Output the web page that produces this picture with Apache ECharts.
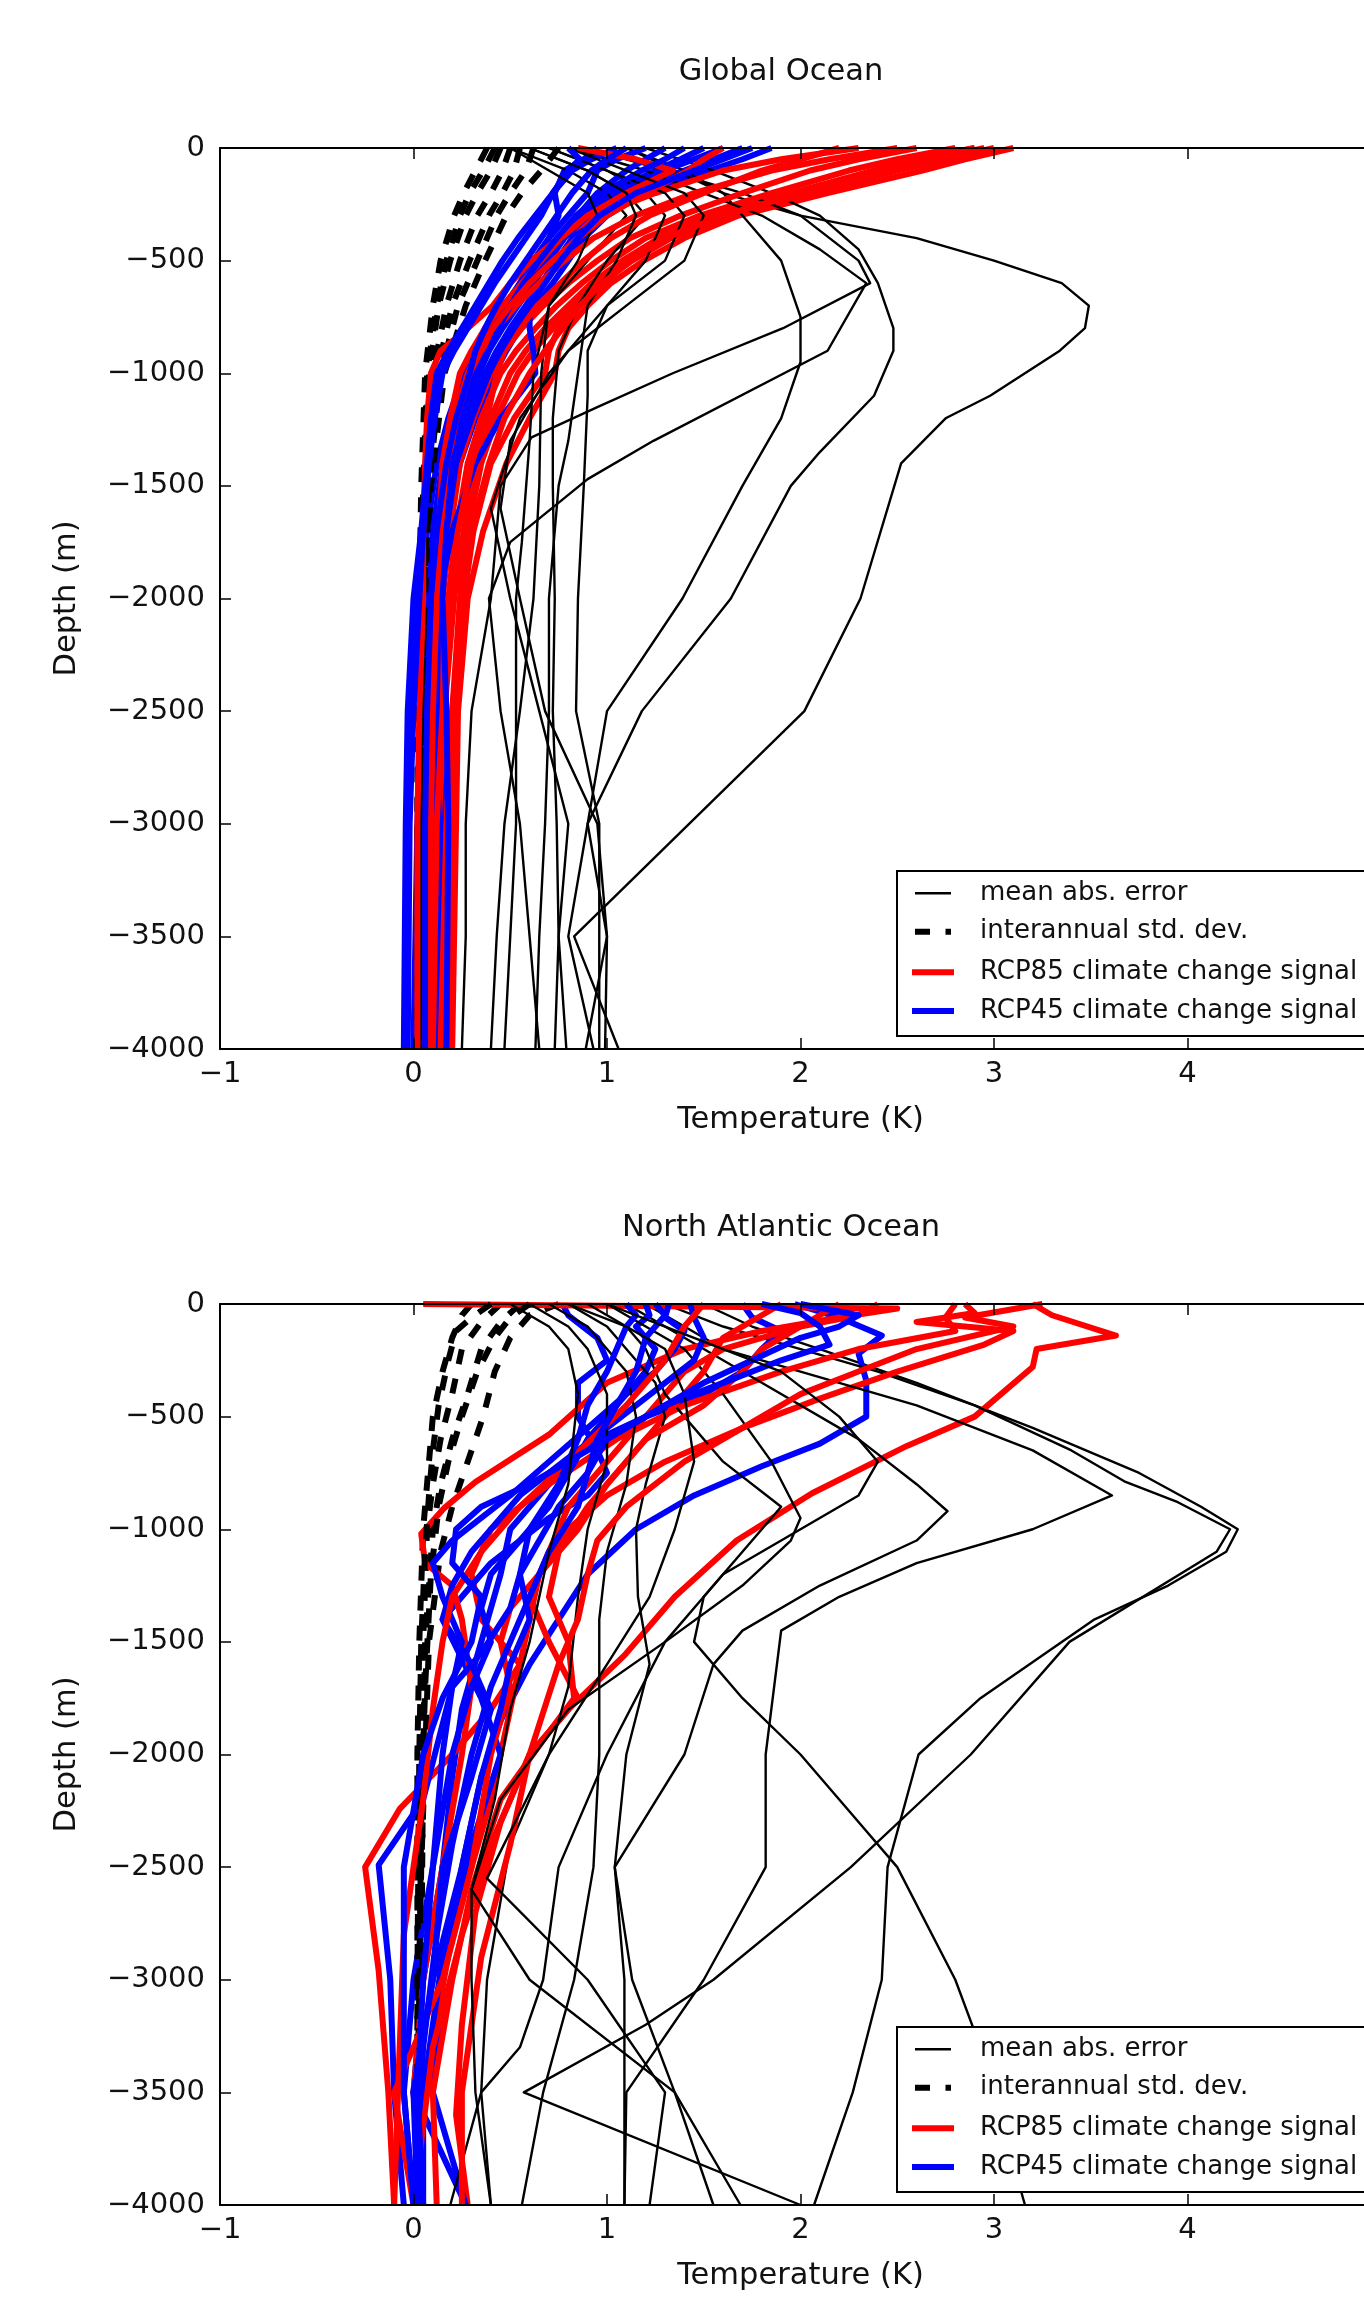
<!DOCTYPE html>
<html><head><meta charset="utf-8">
<script src="https://cdn.jsdelivr.net/npm/echarts@6/dist/echarts.min.js"></script>
<style>html,body{margin:0;padding:0;background:#fff}#c{width:1364px;height:2298px}</style>
</head><body><div id="c"></div>
<script>
// ---------- DATA (temperature K, depth m) ----------
const panelTitles = ['Global Ocean', 'North Atlantic Ocean'];
const xLabel = 'Temperature (K)';
const yLabel = 'Depth (m)';
const legendLabels = ['mean abs. error', 'interannual std. dev.', 'RCP85 climate change signal', 'RCP45 climate change signal'];

// depth levels shared by the Global Ocean climate-change-signal profiles
const globalLevels = [0,-50,-100,-200,-300,-400,-500,-600,-700,-800,-900,-1000,-1200,-1400,-1700,-2000,-2500,-3000,-4000];
// depth levels shared by the Global Ocean std-dev profiles
const stdLevels = [0,-100,-200,-300,-500,-700,-1000,-1500,-2000,-2500,-3000,-4000];

// Global Ocean — mean absolute error  ([T, depth] vertices)
const globalMAE = [
 [[1.1,0],[1.35,-100],[1.6,-200],[2.0,-300],[2.6,-400],[3.0,-500],[3.35,-600],[3.49,-700],[3.47,-800],[3.34,-900],[2.98,-1100],[2.75,-1200],[2.52,-1400],[2.31,-2000],[2.02,-2500],[0.83,-3500],[1.06,-4000]],
 [[1.2,0],[1.55,-100],[1.85,-200],[2.1,-300],[2.3,-450],[2.4,-600],[2.48,-800],[2.48,-900],[2.38,-1100],[2.1,-1350],[1.95,-1500],[1.64,-2000],[1.18,-2500],[0.9,-3000],[1.0,-3500],[0.99,-4000]],
 [[1.1,0],[1.4,-100],[1.6,-200],[1.75,-350],[1.9,-500],[2.0,-750],[2.0,-950],[1.9,-1200],[1.7,-1500],[1.39,-2000],[1.0,-2500],[0.9,-3000],[0.8,-3500],[0.93,-4000]],
 [[0.9,0],[1.3,-100],[1.7,-200],[2.0,-300],[2.3,-500],[2.36,-600],[1.91,-800],[1.34,-1000],[0.95,-1150],[0.61,-1285],[0.45,-1500],[0.4,-2000],[0.3,-2500],[0.27,-3000],[0.27,-3500],[0.25,-4000]],
 [[0.8,0],[1.2,-100],[1.5,-200],[1.8,-300],[2.1,-450],[2.34,-600],[2.14,-900],[1.24,-1300],[0.9,-1470],[0.5,-1750],[0.39,-2000],[0.45,-2500],[0.55,-3000],[0.6,-3500],[0.65,-4000]],
 [[0.7,0],[1.0,-100],[1.2,-200],[1.3,-300],[1.2,-500],[1.0,-700],[0.9,-900],[0.9,-1100],[0.88,-1500],[0.85,-2000],[0.84,-2500],[0.96,-3000],[0.96,-3500],[0.96,-4000]],
 [[0.6,0],[0.9,-100],[1.1,-200],[1.2,-300],[1.0,-500],[0.85,-700],[0.75,-900],[0.72,-1200],[0.72,-1500],[0.73,-2000],[0.72,-2500],[0.74,-3000],[0.75,-3500],[0.79,-4000]],
 [[0.5,0],[0.8,-100],[1.0,-200],[1.1,-300],[0.9,-500],[0.7,-700],[0.62,-1000],[0.6,-1300],[0.56,-1750],[0.53,-2000],[0.53,-2500],[0.53,-3000],[0.5,-3500],[0.47,-4000]],
 [[0.7,0],[1.0,-100],[1.3,-200],[1.4,-300],[1.3,-500],[1.0,-700],[0.7,-1000],[0.5,-1300],[0.45,-1600],[0.55,-2000],[0.68,-2500],[0.95,-3000],[1.0,-3500],[0.89,-4000]],
 [[0.8,0],[1.1,-100],[1.4,-200],[1.5,-300],[1.4,-500],[1.1,-700],[0.8,-900],[0.55,-1200],[0.4,-1600],[0.5,-2000],[0.65,-2500],[0.8,-3000],[0.75,-3500],[0.73,-4000]],
 [[0.5,0],[0.7,-100],[0.9,-200],[0.95,-300],[0.85,-500],[0.7,-700],[0.66,-1000],[0.65,-1500],[0.62,-2000],[0.55,-2500],[0.47,-3000],[0.43,-3500],[0.40,-4000]],
 [[0.6,0],[0.9,-100],[1.1,-200],[1.15,-300],[1.05,-500],[0.9,-700],[0.85,-1000],[0.8,-1300],[0.75,-1500],[0.7,-2000],[0.7,-2500],[0.68,-3000],[0.65,-3500],[0.63,-4000]]
];
// Global Ocean — interannual standard deviation (T at stdLevels)
const globalStd = [
 [0.38,0.32,0.26,0.21,0.14,0.10,0.06,0.04,0.03,0.02,0.02,0.02],
 [0.45,0.40,0.33,0.27,0.19,0.13,0.08,0.05,0.04,0.03,0.03,0.03],
 [0.50,0.46,0.40,0.33,0.24,0.17,0.10,0.06,0.05,0.04,0.03,0.03],
 [0.55,0.52,0.46,0.39,0.29,0.20,0.12,0.07,0.06,0.05,0.04,0.04],
 [0.75,0.66,0.56,0.48,0.37,0.27,0.16,0.09,0.07,0.05,0.04,0.03],
 [0.62,0.58,0.50,0.43,0.33,0.23,0.14,0.08,0.06,0.04,0.03,0.03],
 [0.42,0.36,0.29,0.24,0.17,0.12,0.07,0.05,0.04,0.03,0.02,0.02]
];
// Global Ocean — RCP85 signal (T at globalLevels)
const globalRcp85 = [
 [3.10,2.85,2.63,2.14,1.68,1.40,1.19,1.02,0.90,0.80,0.75,0.73,0.60,0.48,0.36,0.28,0.23,0.22,0.20],
 [3.00,2.75,2.50,2.05,1.62,1.33,1.13,0.97,0.84,0.72,0.62,0.54,0.43,0.35,0.28,0.24,0.20,0.18,0.16],
 [2.90,2.60,2.38,1.95,1.55,1.27,1.08,0.92,0.80,0.68,0.58,0.50,0.40,0.32,0.26,0.21,0.16,0.13,0.12],
 [2.80,2.50,2.25,1.85,1.48,1.20,1.02,0.87,0.74,0.63,0.53,0.45,0.35,0.28,0.22,0.18,0.14,0.12,0.10],
 [2.60,2.30,2.05,1.70,1.38,1.12,0.95,0.80,0.67,0.56,0.47,0.40,0.31,0.24,0.19,0.15,0.12,0.10,0.08],
 [2.95,2.70,2.45,2.00,1.60,1.30,1.10,0.95,0.83,0.75,0.70,0.68,0.52,0.40,0.31,0.26,0.21,0.20,0.19],
 [2.30,1.90,1.60,1.25,0.95,0.75,0.61,0.50,0.41,0.28,0.14,0.09,0.07,0.06,0.05,0.05,0.03,0.02,0.02],
 [2.50,2.15,1.85,1.45,1.15,0.93,0.78,0.65,0.53,0.43,0.35,0.29,0.22,0.18,0.14,0.12,0.10,0.08,0.06],
 [0.85,1.15,1.34,1.10,0.90,0.76,0.66,0.56,0.46,0.37,0.30,0.24,0.19,0.15,0.13,0.11,0.09,0.08,0.07],
 [2.20,2.00,1.80,1.50,1.22,1.02,0.88,0.76,0.64,0.55,0.47,0.43,0.38,0.30,0.23,0.19,0.15,0.12,0.10],
 [1.60,1.50,1.42,1.20,1.00,0.85,0.72,0.60,0.50,0.41,0.34,0.28,0.21,0.17,0.14,0.12,0.10,0.09,0.08],
 [2.90,2.65,2.42,2.00,1.60,1.30,1.12,0.98,0.86,0.77,0.68,0.60,0.47,0.39,0.30,0.26,0.20,0.17,0.14]
];
// Global Ocean — RCP45 signal (T at globalLevels)
const globalRcp45 = [
 [1.85,1.70,1.53,1.19,1.00,0.88,0.80,0.72,0.63,0.55,0.48,0.42,0.32,0.24,0.18,0.14,0.16,0.17,0.16],
 [1.70,1.55,1.40,1.10,0.93,0.82,0.74,0.66,0.58,0.50,0.43,0.37,0.28,0.21,0.15,0.12,0.14,0.15,0.14],
 [1.50,1.38,1.25,1.02,0.88,0.77,0.68,0.60,0.52,0.45,0.38,0.32,0.24,0.18,0.12,0.06,0.04,0.02,0.00],
 [0.95,0.88,0.78,0.73,0.75,0.70,0.62,0.55,0.47,0.40,0.33,0.26,0.18,0.12,0.07,0.02,-0.01,-0.03,-0.04],
 [1.20,1.05,0.95,0.90,0.80,0.70,0.62,0.55,0.48,0.41,0.34,0.28,0.20,0.15,0.10,0.08,0.10,0.11,0.11],
 [1.30,1.20,1.10,0.95,0.85,0.75,0.68,0.62,0.60,0.60,0.62,0.63,0.45,0.32,0.20,0.13,0.12,0.13,0.13],
 [1.60,1.45,1.30,1.05,0.90,0.78,0.70,0.62,0.54,0.46,0.39,0.33,0.25,0.19,0.13,0.10,0.09,0.08,0.08],
 [1.05,0.92,0.82,0.72,0.63,0.54,0.46,0.39,0.32,0.25,0.18,0.12,0.09,0.07,0.04,0.00,-0.03,-0.04,-0.05],
 [1.40,1.30,1.18,0.98,0.84,0.74,0.65,0.57,0.50,0.44,0.39,0.34,0.27,0.20,0.14,0.11,0.12,0.13,0.13],
 [0.80,0.86,0.80,0.72,0.66,0.58,0.50,0.42,0.35,0.28,0.21,0.15,0.11,0.08,0.05,0.03,0.00,-0.02,-0.03],
 [1.10,1.00,0.92,0.82,0.74,0.66,0.58,0.50,0.43,0.37,0.32,0.29,0.22,0.17,0.12,0.09,0.07,0.06,0.06],
 [1.75,1.60,1.45,1.15,0.96,0.85,0.76,0.68,0.60,0.52,0.45,0.39,0.30,0.22,0.17,0.15,0.17,0.18,0.17]
];

// North Atlantic Ocean — mean absolute error ([T, depth] vertices)
const natlMAE = [
 [[1.5,0],[1.75,-100],[2.1,-200],[2.6,-350],[3.2,-550],[3.75,-750],[4.07,-900],[4.26,-1000],[4.2,-1100],[3.9,-1250],[3.52,-1400],[2.93,-1750],[2.61,-2000],[2.45,-2500],[2.42,-3000],[2.27,-3500],[2.07,-4000]],
 [[1.3,0],[1.6,-100],[2.0,-200],[2.4,-300],[2.9,-450],[3.4,-650],[3.68,-790],[3.95,-880],[4.22,-1000],[4.15,-1100],[3.39,-1500],[2.88,-2000],[2.26,-2500],[1.55,-3000],[1.2,-3200],[0.57,-3500],[2.0,-4000]],
 [[1.2,0],[1.4,-100],[1.6,-200],[2.0,-300],[2.6,-450],[3.2,-650],[3.61,-850],[3.2,-1000],[2.6,-1150],[2.2,-1300],[1.9,-1450],[1.82,-2000],[1.82,-2500],[1.5,-3000],[1.1,-3500],[1.09,-4000]],
 [[1.1,0],[1.3,-100],[1.5,-200],[1.8,-350],[2.3,-600],[2.6,-800],[2.76,-920],[2.6,-1050],[2.1,-1250],[1.7,-1450],[1.55,-1600],[1.4,-2000],[1.04,-2500],[1.13,-3000],[1.35,-3500],[1.55,-4000]],
 [[1.0,0],[1.2,-100],[1.4,-200],[1.6,-400],[1.85,-700],[2.0,-950],[1.95,-1050],[1.7,-1250],[1.3,-1500],[1.0,-2000],[0.75,-2500],[0.67,-3000],[0.55,-3300],[0.35,-3500],[0.4,-4000]],
 [[0.9,0],[1.1,-100],[1.2,-200],[1.3,-400],[1.6,-700],[1.9,-900],[1.7,-1100],[1.5,-1300],[1.45,-1500],[1.7,-1750],[2.0,-2000],[2.25,-2250],[2.5,-2500],[2.8,-3000],[2.93,-3300],[3.16,-4000]],
 [[0.8,0],[1.0,-100],[1.1,-200],[1.25,-350],[1.3,-500],[1.2,-800],[1.15,-1000],[1.16,-1300],[1.22,-1600],[1.1,-2000],[1.04,-2500],[1.09,-3000],[1.09,-3500],[1.09,-4000]],
 [[0.7,0],[0.9,-100],[1.0,-200],[1.1,-300],[1.15,-500],[1.1,-800],[1.0,-1100],[0.96,-1400],[0.96,-2000],[0.93,-2500],[0.83,-3000],[0.67,-3500],[0.56,-4000]],
 [[0.6,0],[0.8,-100],[0.9,-200],[1.0,-400],[1.0,-700],[0.9,-1000],[0.85,-1300],[0.8,-1700],[0.7,-2000],[0.5,-2400],[0.38,-3000],[0.35,-3500],[0.19,-4000]],
 [[0.8,0],[1.1,-100],[1.3,-200],[1.4,-400],[1.45,-700],[1.35,-1000],[1.22,-1300],[1.0,-1600],[0.7,-2000],[0.38,-2550],[0.9,-3000],[1.3,-3500],[1.22,-4000]],
 [[0.5,0],[0.7,-100],[0.8,-200],[0.85,-400],[0.8,-800],[0.7,-1100],[0.6,-1500],[0.5,-1800],[0.42,-2200],[0.3,-2600],[0.6,-3000],[1.35,-3500],[1.69,-4000]],
 [[1.0,0],[1.3,-100],[1.6,-200],[1.9,-300],[2.2,-500],[2.4,-700],[2.3,-850],[2.0,-1000],[1.6,-1200],[1.3,-1500],[0.8,-1800],[0.45,-2200],[0.3,-2600],[0.3,-3000],[0.32,-3500],[0.4,-4000]]
];
// North Atlantic Ocean — interannual standard deviation
const natlStd = [
 [[0.3,0],[0.25,-50],[0.2,-150],[0.15,-300],[0.1,-500],[0.07,-800],[0.05,-1000],[0.03,-1500],[0.02,-2000],[0.02,-3000],[0.02,-4000]],
 [[0.45,0],[0.35,-80],[0.25,-200],[0.2,-400],[0.14,-600],[0.1,-800],[0.07,-1000],[0.05,-1500],[0.04,-2000],[0.03,-3000],[0.02,-4000]],
 [[0.55,0],[0.45,-80],[0.35,-200],[0.28,-400],[0.2,-600],[0.14,-800],[0.1,-1000],[0.06,-1500],[0.05,-2000],[0.04,-3000],[0.03,-4000]],
 [[0.75,0],[0.6,-50],[0.5,-150],[0.42,-300],[0.36,-500],[0.28,-700],[0.2,-900],[0.14,-1100],[0.08,-1500],[0.06,-2000],[0.04,-2500],[0.03,-3000],[0.02,-4000]],
 [[0.6,0],[0.5,-60],[0.42,-150],[0.33,-300],[0.25,-500],[0.18,-700],[0.13,-900],[0.09,-1200],[0.06,-1700],[0.04,-2300],[0.03,-3000],[0.02,-4000]],
 [[0.4,0],[0.3,-60],[0.22,-120],[0.18,-250],[0.13,-450],[0.1,-650],[0.08,-850],[0.06,-1100],[0.04,-1500],[0.03,-2000],[0.02,-3000],[0.02,-4000]]
];
// North Atlantic Ocean — RCP85 signal
const natlRcp85 = [
 [[3.2,0],[3.3,-50],[3.63,-140],[3.22,-200],[3.2,-280],[2.9,-500],[2.55,-630],[2.06,-840],[1.67,-1050],[1.35,-1300],[1.09,-1560],[0.8,-1800],[0.6,-2000],[0.45,-2300],[0.32,-2700],[0.25,-3200],[0.22,-3600],[0.28,-4000]],
 [[2.85,0],[2.9,-40],[2.6,-80],[3.1,-120],[2.95,-180],[2.5,-300],[2.1,-420],[1.7,-550],[1.3,-700],[1.0,-850],[0.8,-1000],[0.65,-1200],[0.6,-1400],[0.55,-1600],[0.5,-1800],[0.4,-2200],[0.2,-2800],[0.05,-3500],[0.02,-4000]],
 [[2.8,0],[2.75,-60],[2.8,-120],[2.3,-200],[1.9,-300],[1.4,-450],[1.05,-600],[0.7,-800],[0.4,-1000],[0.3,-1200],[0.35,-1400],[0.55,-1600],[0.4,-1800],[0.2,-2000],[-0.07,-2240],[-0.25,-2500],[-0.18,-2960],[-0.13,-3500],[-0.1,-4000]],
 [[0.05,0],[2.5,-20],[2.2,-60],[1.8,-120],[1.4,-200],[1.0,-350],[0.7,-580],[0.32,-790],[0.16,-905],[0.04,-1020],[0.06,-1150],[0.2,-1250],[0.25,-1400],[0.3,-1700],[0.25,-2000],[0.15,-2500],[0.05,-3000],[0.0,-3500],[0.05,-4000]],
 [[2.4,0],[2.3,-50],[2.0,-100],[1.6,-200],[1.4,-300],[1.2,-500],[1.0,-700],[0.8,-900],[0.7,-1100],[0.6,-1300],[0.7,-1500],[0.85,-1750],[0.6,-2000],[0.4,-2400],[0.25,-2800],[0.1,-3300],[0.0,-4000]],
 [[1.9,0],[1.8,-50],[1.6,-150],[1.5,-300],[1.3,-500],[1.1,-700],[0.9,-900],[0.75,-1100],[0.7,-1300],[0.8,-1500],[0.83,-1750],[0.7,-1900],[0.45,-2200],[0.3,-2600],[0.2,-3000],[0.1,-3500],[0.12,-4000]],
 [[2.2,0],[2.0,-100],[1.8,-200],[1.7,-300],[1.5,-450],[1.2,-600],[1.0,-800],[0.85,-1000],[0.65,-1200],[0.5,-1350],[0.45,-1500],[0.5,-1700],[0.4,-2000],[0.3,-2500],[0.15,-3000],[-0.1,-3500],[0.0,-4000]],
 [[1.5,0],[1.4,-100],[1.3,-250],[1.1,-450],[0.8,-700],[0.55,-900],[0.35,-1100],[0.2,-1300],[0.15,-1500],[0.1,-1800],[0.05,-2200],[-0.05,-2800],[-0.08,-3500],[-0.1,-4000]],
 [[3.25,0],[2.85,-60],[3.1,-100],[2.6,-200],[2.3,-300],[2.0,-400],[1.7,-550],[1.4,-700],[1.1,-900],[0.95,-1050],[0.9,-1200],[0.85,-1400],[0.75,-1600],[0.6,-2000],[0.5,-2400],[0.35,-2900],[0.25,-3500],[0.25,-4000]]
];
// North Atlantic Ocean — RCP45 signal
const natlRcp45 = [
 [[1.97,0],[2.2,-60],[2.42,-140],[2.3,-220],[2.34,-340],[2.34,-500],[2.1,-620],[1.8,-720],[1.45,-850],[1.15,-1000],[0.9,-1200],[0.75,-1400],[0.6,-1600],[0.45,-1850],[0.35,-2100],[0.25,-2500],[0.15,-3000],[0.1,-3500],[0.27,-4000]],
 [[1.7,0],[1.75,-60],[1.9,-120],[1.8,-200],[1.7,-300],[1.5,-400],[1.2,-500],[0.95,-600],[0.8,-700],[0.65,-850],[0.5,-1000],[0.45,-1200],[0.35,-1500],[0.25,-1800],[0.2,-2100],[0.15,-2500],[0.05,-3000],[0.0,-3500],[0.27,-4000]],
 [[0.77,0],[0.8,-50],[0.95,-150],[1.0,-250],[0.85,-350],[0.85,-500],[0.95,-650],[1.0,-750],[0.9,-850],[0.7,-950],[0.55,-1050],[0.4,-1150],[0.25,-1300],[0.15,-1400],[0.35,-1750],[0.45,-2000],[0.3,-2400],[0.15,-2900],[0.05,-3500],[0.05,-4000]],
 [[1.2,0],[1.22,-50],[1.15,-100],[1.25,-200],[1.2,-300],[1.05,-450],[0.9,-600],[0.8,-750],[0.7,-900],[0.55,-1050],[0.4,-1200],[0.35,-1350],[0.4,-1500],[0.3,-1700],[0.2,-2000],[0.1,-2500],[0.0,-3000],[-0.05,-3500],[0.0,-4000]],
 [[1.32,0],[1.3,-60],[1.4,-120],[1.35,-200],[1.25,-300],[1.1,-400],[0.9,-550],[0.7,-700],[0.5,-850],[0.35,-950],[0.2,-1050],[0.1,-1150],[0.15,-1300],[0.25,-1500],[0.2,-1700],[0.05,-2200],[-0.18,-2490],[-0.12,-3000],[-0.1,-3500],[-0.05,-4000]],
 [[1.43,0],[1.45,-60],[1.5,-150],[1.45,-250],[1.3,-350],[1.15,-450],[1.0,-550],[0.85,-650],[0.7,-750],[0.55,-850],[0.45,-950],[0.3,-1100],[0.2,-1250],[0.15,-1400],[0.3,-1600],[0.4,-1800],[0.3,-2100],[0.15,-2500],[0.1,-3000],[0.0,-3500],[0.05,-4000]],
 [[1.8,0],[2.0,-40],[2.1,-100],[2.15,-180],[1.9,-250],[1.6,-350],[1.3,-450],[1.0,-600],[0.9,-750],[0.75,-900],[0.65,-1050],[0.55,-1200],[0.5,-1350],[0.35,-1550],[0.2,-1700],[0.15,-2000],[0.1,-2500],[0.05,-3000],[0.02,-3500],[0.05,-4000]],
 [[1.1,0],[1.15,-50],[1.1,-100],[1.05,-200],[1.0,-300],[0.9,-450],[0.85,-600],[0.75,-800],[0.6,-1000],[0.55,-1200],[0.6,-1400],[0.5,-1600],[0.45,-1800],[0.35,-2100],[0.25,-2500],[0.1,-3000],[0.0,-3500],[0.02,-4000]],
 [[1.25,0],[1.3,-50],[1.2,-150],[1.15,-300],[1.05,-450],[0.95,-600],[0.9,-750],[0.85,-900],[0.7,-1100],[0.6,-1300],[0.5,-1500],[0.4,-1700],[0.3,-2000],[0.2,-2400],[0.12,-2800],[0.05,-3300],[0.0,-4000]],
 [[2.0,0],[2.3,-50],[2.2,-100],[2.0,-150],[1.75,-250],[1.5,-350],[1.2,-500],[0.9,-650],[0.6,-800],[0.35,-900],[0.22,-1000],[0.2,-1150],[0.35,-1300],[0.3,-1500],[0.15,-1750],[0.05,-2000],[-0.05,-2500],[-0.05,-3000],[-0.05,-3500],[0.0,-4000]]
];

// ---------- LAYOUT / STYLE ----------
const FONT = '"DejaVu Sans", "Liberation Sans", sans-serif';
const TXT = '#111';
const gridTop = [148, 1304];
const gridH = 901;
const panelOffset = gridTop[1] - gridTop[0];

function fmt(v) { return v < 0 ? '\u2212' + Math.abs(v) : String(v); }
function onLevels(vals, levels) { return vals.map((t, i) => [t, levels[i]]); }

const grids = gridTop.map(t => ({ left: 220, top: t, width: 1161, height: gridH, containLabel: false, outerBoundsMode: 'none' }));

const xAxes = [], yAxes = [];
[0, 1].forEach(g => {
  ['bottom', 'top'].forEach(pos => {
    xAxes.push({
      type: 'value', gridIndex: g, position: pos, min: -1, max: 5, interval: 1, z: 5,
      axisLine: { show: true, onZero: false, lineStyle: { color: '#000', width: 2 } },
      axisTick: { show: true, inside: true, length: 11, lineStyle: { color: '#000', width: 1.5 } },
      axisLabel: { show: pos === 'bottom', margin: 11, fontFamily: FONT, fontSize: 29, color: TXT, formatter: fmt },
      splitLine: { show: false }
    });
  });
  ['left', 'right'].forEach(pos => {
    yAxes.push({
      type: 'value', gridIndex: g, position: pos, min: -4000, max: 0, interval: 500, z: 5,
      axisLine: { show: true, onZero: false, lineStyle: { color: '#000', width: 2 } },
      axisTick: { show: true, inside: true, length: 11, lineStyle: { color: '#000', width: 1.5 } },
      axisLabel: { show: pos === 'left', margin: 15, fontFamily: FONT, fontSize: 29, color: TXT, formatter: fmt },
      splitLine: { show: false }
    });
  });
});

function mk(data, g, color, width, type) {
  return {
    type: 'line', xAxisIndex: g * 2, yAxisIndex: g * 2, data: data,
    symbol: 'none', showSymbol: false, silent: true, animation: false, smooth: false,
    lineStyle: { color: color, width: width, type: type || 'solid', cap: 'butt', join: 'round' },
    emphasis: { disabled: true }, z: 2
  };
}

const panels = [
  [globalMAE, globalStd.map(v => onLevels(v, stdLevels)), globalRcp85.map(v => onLevels(v, globalLevels)), globalRcp45.map(v => onLevels(v, globalLevels))],
  [natlMAE, natlStd, natlRcp85, natlRcp45]
];
const series = [];
panels.forEach((p, g) => {
  const n = Math.max(p[0].length, p[1].length, p[2].length, p[3].length);
  for (let i = 0; i < n; i++) {
    if (p[0][i]) series.push(mk(p[0][i], g, '#000', 2.4));
    if (p[1][i]) series.push(mk(p[1][i], g, '#000', 6, [15, 15]));
    if (p[2][i]) series.push(mk(p[2][i], g, '#ff0000', 6));
    if (p[3][i]) series.push(mk(p[3][i], g, '#0000ff', 6));
  }
});

const graphics = [];
[0, 1].forEach(g => {
  const dy = g * panelOffset;
  const ts = (t, fs, al) => ({ text: t, font: fs + 'px ' + FONT, fill: TXT, align: al, verticalAlign: 'middle', textAlign: al, textVerticalAlign: 'middle' });
  graphics.push({ type: 'text', x: 781, y: 72.5 + dy, z: 50, style: ts(panelTitles[g], 30.5, 'center') });
  graphics.push({ type: 'text', x: 800.5, y: 1120 + dy, z: 50, style: ts(xLabel, 30.5, 'center') });
  graphics.push({ type: 'text', x: 67, y: 598.5 + dy, rotation: Math.PI / 2, z: 50, style: ts(yLabel, 30.5, 'center') });
  graphics.push({ type: 'rect', z: 100, shape: { x: 897, y: 871 + dy, width: 540, height: 165 },
    style: { fill: '#fff', stroke: '#000', lineWidth: 2 } });
  const rows = [893.3, 931.7, 972.3, 1011];
  graphics.push({ type: 'line', z: 101, shape: { x1: 915, y1: rows[0] + dy, x2: 951, y2: rows[0] + dy }, style: { stroke: '#000', lineWidth: 2.4 } });
  graphics.push({ type: 'line', z: 101, shape: { x1: 915, y1: rows[1] + dy, x2: 951, y2: rows[1] + dy }, style: { stroke: '#000', lineWidth: 6, lineDash: [15, 15.5] } });
  graphics.push({ type: 'line', z: 101, shape: { x1: 912, y1: rows[2] + dy, x2: 954, y2: rows[2] + dy }, style: { stroke: '#ff0000', lineWidth: 6 } });
  graphics.push({ type: 'line', z: 101, shape: { x1: 912, y1: rows[3] + dy, x2: 954, y2: rows[3] + dy }, style: { stroke: '#0000ff', lineWidth: 6 } });
  legendLabels.forEach((t, i) => {
    graphics.push({ type: 'text', z: 101, x: 980, y: rows[i] + dy, style: ts(t, 26, 'left') });
  });
});

const chart = echarts.init(document.getElementById('c'), null, { renderer: 'canvas' });
chart.setOption({
  animation: false,
  backgroundColor: '#fff',
  grid: grids,
  xAxis: xAxes,
  yAxis: yAxes,
  series: series,
  graphic: { elements: graphics }
});
</script></body></html>
